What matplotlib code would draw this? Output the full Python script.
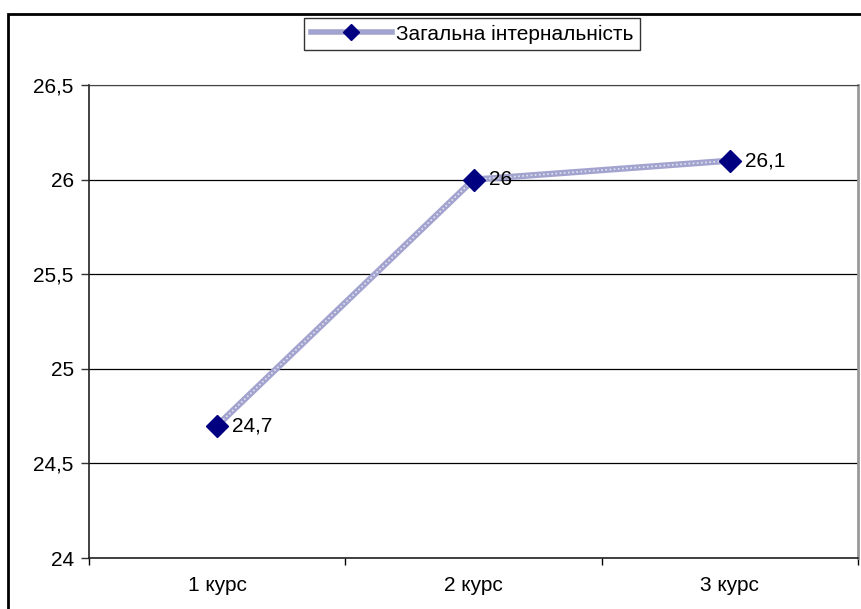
import matplotlib
matplotlib.use("Agg")
import matplotlib.pyplot as plt
from matplotlib.patches import Rectangle
from matplotlib.lines import Line2D

plt.rcParams['font.family'] = ['Liberation Sans', 'DejaVu Sans']

# data
categories = ['1 курс', '2 курс', '3 курс']
values = [24.7, 26.0, 26.1]
value_labels = ['24,7', '26', '26,1']
series_name = 'Загальна інтернальність'
yticks = [24, 24.5, 25, 25.5, 26, 26.5]
ytick_labels = ['24', '24,5', '25', '25,5', '26', '26,5']

W, H = 861, 609
FS = 15
fig = plt.figure(figsize=(W / 100, H / 100), dpi=100)

# outer chart frame (runs off the right and bottom edges)
fig.patches.append(Rectangle((8 / W, -0.05), 1.0, 1 - 14 / H + 0.05,
                             transform=fig.transFigure, fill=False,
                             edgecolor='black', lw=2))

ax = fig.add_axes([89 / W, (H - 558) / H, (858 - 89) / W, (558 - 85) / H])

x = list(range(len(categories)))
ax.plot(x, values, color='#a3a3cf', lw=4.5, zorder=3)
ax.plot(x, values, color='white', lw=1.2, ls=(0, (1, 1.5)), alpha=0.7, zorder=3)
ax.plot(x, values, ls='none', marker='D', markersize=11.5,
        markerfacecolor='#000080', markeredgecolor='#000080', zorder=4)

for xi, v, lab in zip(x, values, value_labels):
    ax.annotate(lab, (xi, v), xytext=(11, 0), textcoords='offset points',
                ha='left', va='center', fontsize=FS, zorder=5)

ax.set_xlim(-0.5, len(categories) - 0.5)
ax.set_ylim(24, 26.5)
ax.set_yticks(yticks)
ax.set_yticklabels(ytick_labels, fontsize=FS)
ax.set_xticks(x)
ax.set_xticklabels(categories, fontsize=FS)
ax.set_xticks([-0.5, 0.5, 1.5, 2.5], minor=True)
ax.tick_params(axis='x', which='major', length=0, pad=13)
ax.tick_params(axis='x', which='minor', length=5, width=1, color='black')
ax.tick_params(axis='y', length=6, width=1, color='#333333', pad=5)

ax.grid(axis='y', color='black', lw=0.9)
ax.set_axisbelow(True)
for side in ['left', 'bottom']:
    ax.spines[side].set_color('#222222')
    ax.spines[side].set_linewidth(1.2)
ax.spines['top'].set_color('#444444')
ax.spines['right'].set_color('#999999')
ax.spines['right'].set_linewidth(2)

handle = Line2D([], [], color='#a3a3cf', lw=4, marker='D', markersize=8,
                markerfacecolor='#000080', markeredgecolor='#000080')
leg = fig.legend([handle], [series_name], loc='center',
                 bbox_to_anchor=(472 / W, 1 - 34 / H),
                 fontsize=FS, frameon=True, fancybox=False,
                 handlelength=3.9, borderpad=0.3, handletextpad=0.2,
                 borderaxespad=0)
leg.get_frame().set_edgecolor('black')
leg.get_frame().set_linewidth(1)

fig.savefig('out.png', dpi=100)
